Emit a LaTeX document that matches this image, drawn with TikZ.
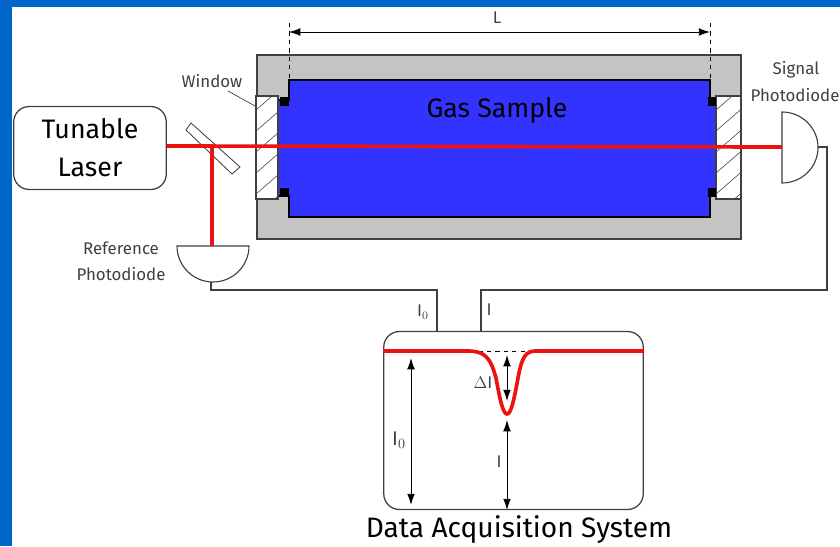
\documentclass[tikz,border=0pt]{standalone}
\usepackage{amsmath}
\usepackage{fontspec}
\setmainfont{Fira Sans}
\usetikzlibrary{arrows.meta,calc}
\definecolor{framecol}{HTML}{0066CC}
\definecolor{cellcol}{HTML}{C4C4C4}
\definecolor{gascol}{HTML}{3333FF}
\definecolor{beamcol}{HTML}{EE1111}
\definecolor{linecol}{HTML}{404040}
\tikzset{
  box/.style={draw=linecol,line width=0.9pt,fill=white,rounded corners=11pt,inner sep=0pt,align=center},
  beam/.style={draw=beamcol,line width=2.6pt},
  wire/.style={draw=linecol,line width=0.8pt},
  dim/.style={draw=black,line width=0.7pt,{Latex[length=8pt,width=5.5pt]}-{Latex[length=8pt,width=5.5pt]}},
  hatchbox/.style={draw=linecol,line width=0.8pt,fill=white},
  small/.style={font=\fontsize{12}{14}\selectfont,text=black!75,inner sep=0pt},
  large/.style={font=\fontsize{20}{24}\selectfont,inner sep=0pt,align=center}
}
\begin{document}
\begin{tikzpicture}[x=0.025cm,y=-0.025cm]
  \useasboundingbox (0,0) rectangle (840,546);
  \fill[framecol] (0,0) rectangle (840,7);
  \fill[framecol] (0,0) rectangle (12,546);
  % gas cell
  \draw[draw=linecol,line width=0.9pt,fill=cellcol] (257,55) rectangle (741,239);
  \draw[draw=black,line width=0.8pt,fill=gascol] (289,80) -- (710,80) -- (710,100) -- (716,100) -- (716,196) -- (710,196) -- (710,217)
     -- (289,217) -- (289,196) -- (278,196) -- (278,100) -- (289,100) -- cycle;
  % windows
  \foreach \xa/\xb in {256/278,716/741} {
    \draw[hatchbox] (\xa,96) rectangle (\xb,199);
    \begin{scope}
      \clip (\xa,96) rectangle (\xb,199);
      \foreach \yy in {110,131,...,240}
        \draw[draw=linecol,line width=0.4pt] (\xa,\yy) -- ++(30,-26);
    \end{scope}
  }
  \fill[black] (280,97) rectangle (289,106);
  \fill[black] (280,188) rectangle (289,197);
  \fill[black] (708,97) rectangle (716,106);
  \fill[black] (708,188) rectangle (716,197);
  % length mark
  \coordinate (la) at (289,32);
  \coordinate (lb) at (710,32);
  \draw[dim] (la) -- (lb);
  \draw[draw=black,line width=0.6pt,dashed] (289,23) -- (289,80);
  \draw[draw=black,line width=0.6pt,dashed] (710,23) -- (710,80);
  % source and splitter
  \node[box,minimum width=108.5pt,minimum height=59pt,font=\fontsize{19}{27}\selectfont] (laser) at (90,148) {Tunable\\Laser};
  \draw[draw=linecol,line width=0.6pt,fill=white] (191,123) -- (186,130) -- (232,174) -- (240,167) -- cycle;
  % photodiodes
  \coordinate (refin) at (212,246);
  \coordinate (refout) at (211,282);
  \coordinate (sigin) at (782,147);
  \coordinate (sigout) at (818,147);
  \coordinate (split) at (212,146);
  \draw[wire,fill=white] (177,246) -- (249,246) arc[start angle=0,end angle=180,x radius=36,y radius=36] -- cycle;
  \draw[wire,fill=white] (782,112) arc[start angle=90,end angle=-90,x radius=36,y radius=-35.5] -- cycle;
  \draw[beam] (laser.east |- split) -- (sigin);
  \draw[beam] (split) -- (refin);
  % acquisition box
  \node[box,minimum width=184.5pt,minimum height=126.5pt] (daq) at (513.5,420.5) {};
  \coordinate (refbus) at (437,290);
  \coordinate (sigbus) at (481,290);
  \draw[wire] (refout) -- (211,290) -- (refbus) -- (refbus |- daq.north);
  \draw[wire] (sigout) -- (827,147) -- (827,290) -- (sigbus) -- (sigbus |- daq.north);
  \coordinate (trace) at (507,414);
  \draw[draw=black,line width=0.4pt,dashed] (470,351) -- (530,351);
  \draw[dim] (411,358) -- (411,505);
  \draw[dim] (507,355) -- (507,401);
  \draw[dim] (507,420) -- (507,510);
  \draw[draw=beamcol,line width=2.6pt] (383,351) -- (467,351) .. controls (484,351) and (490,356) .. (496,378)
     .. controls (500,400) and (503,414) .. (trace) .. controls (511,414) and (514,400) .. (518,378)
     .. controls (522,356) and (526,351) .. (536,351) -- (644,351);
  % labels
  \node[small] (lablen) at (497,18) {L};
  \node[small] (labwin) at (212,81) {Window};
  \draw[draw=linecol,line width=0.5pt] (228,91) -- (255,106);
  \node[small] (labref) at (121,248) {Reference};
  \node[small] (labrefb) at (121,274) {Photodiode};
  \node[small] (labsig) at (796,70) {Signal};
  \node[small] (labsigb) at (795,95) {Photodiode};
  \node[large,font=\fontsize{19}{22}\selectfont] (labgas) at (497,110) {Gas Sample};
  \node[large] (labdaq) at (519,530) {Data Acquisition System};
  \node[small] (labia) at (423,312) {I$_0$};
  \node[small] (labib) at (489,310) {I};
  \node[small] (labdi) at (483,383) {$\Delta$I};
  \node[small,font=\fontsize{14}{16}\selectfont] (labic) at (399,440) {I$_0$};
  \node[small] (labid) at (499,462) {I};
\end{tikzpicture}
\end{document}
